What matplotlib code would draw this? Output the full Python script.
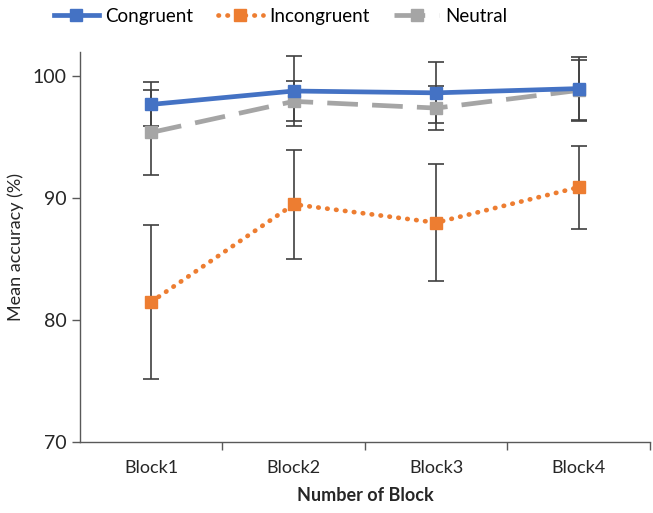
import matplotlib
matplotlib.use("Agg")
import matplotlib.pyplot as plt
import numpy as np

plt.rcParams['font.family'] = ['Lato', 'DejaVu Sans']

blocks = ["Block1", "Block2", "Block3", "Block4"]
congruent = [97.7, 98.8, 98.65, 99.0]
congruent_err = [1.8, 2.9, 2.5, 2.6]
incongruent = [81.5, 89.5, 88.0, 90.9]
incongruent_err = [6.3, 4.5, 4.8, 3.4]
neutral = [95.4, 97.95, 97.4, 98.85]
neutral_err = [3.5, 1.65, 1.8, 2.5]
yticks = [70, 80, 90, 100]

fig = plt.figure(figsize=(6.53, 5.13), dpi=100)
ax = fig.add_axes([0.1225, 0.1384, 0.8727, 0.7602])
x = np.arange(len(blocks))

ecol = '#404040'
ax.errorbar(x, neutral, yerr=neutral_err, fmt='none', ecolor=ecol, elinewidth=1.2, capsize=6, capthick=1.2, zorder=2)
ax.errorbar(x, congruent, yerr=congruent_err, fmt='none', ecolor=ecol, elinewidth=1.2, capsize=6, capthick=1.2, zorder=2)
ax.errorbar(x, incongruent, yerr=incongruent_err, fmt='none', ecolor=ecol, elinewidth=1.2, capsize=6, capthick=1.2, zorder=2)

l1, = ax.plot(x, congruent, color='#4472C4', lw=3.4, marker='s', ms=8.5, label='Congruent', zorder=4)
l2, = ax.plot(x, incongruent, color='#ED7D31', lw=3.4, ls=(0, (0.1, 1.8)), dash_capstyle='round',
              marker='s', ms=8.5, label='Incongruent', zorder=3)
l3, = ax.plot(x, neutral, color='#A5A5A5', lw=3.4, ls=(0, (6.5, 3.0)), marker='s', ms=8.5,
              label='Neutral', zorder=3)

ax.set_xlim(-0.5, 3.5)
ax.set_ylim(70, 102)
ax.set_yticks(yticks)
ax.set_yticklabels([str(v) for v in yticks])
ax.set_xticks(x)
ax.set_xticklabels(blocks)
ax.set_xticks([0.5, 1.5, 2.5, 3.5], minor=True)
ax.tick_params(axis='x', which='major', length=0, pad=13, labelsize=13, colors='#262626')
ax.tick_params(axis='x', which='minor', length=6, width=1, color='#595959')
ax.tick_params(axis='y', length=6, width=1, color='#595959', labelsize=14, labelcolor='#262626')
for s in ['top', 'right']:
    ax.spines[s].set_visible(False)
for s in ['left', 'bottom']:
    ax.spines[s].set_color('#595959')
    ax.spines[s].set_linewidth(1)

ax.set_ylabel('Mean accuracy (%)', fontsize=13, color='#262626', labelpad=6)
ax.set_xlabel('Number of Block', fontsize=13, fontweight='bold', color='#262626', labelpad=8)

fig.legend(handles=[l1, l2, l3], loc='upper center', bbox_to_anchor=(0.43, 1.018), ncol=3,
           frameon=False, fontsize=13.5, handlelength=2.4, columnspacing=1.3, handletextpad=0.35)

fig.savefig('out.png', dpi=100)
